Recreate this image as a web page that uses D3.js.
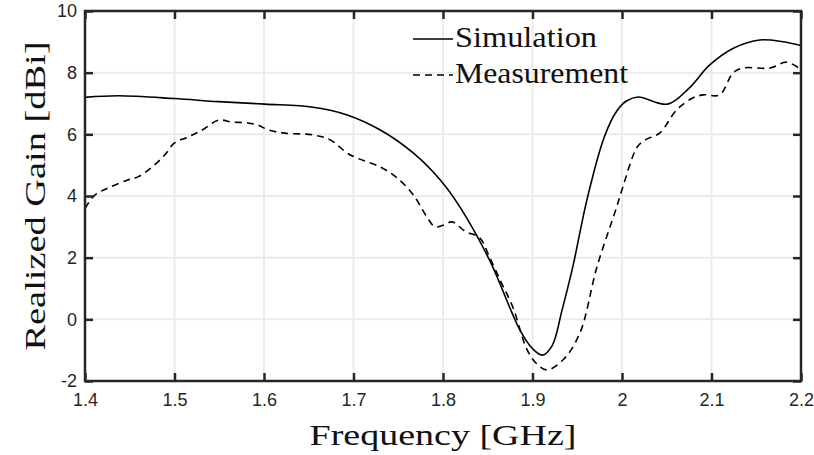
<!DOCTYPE html>
<html>
<head>
<meta charset="utf-8">
<script src="https://cdn.jsdelivr.net/npm/d3@7"></script>
<style>
    html, body { margin: 0; padding: 0; background: #fff; }
    svg { display: block; }
    .tick-label { font-family: "Liberation Sans", Arial, sans-serif; font-size: 18px; fill: #262626; }
    .title { font-family: "Liberation Serif", "Times New Roman", serif; font-size: 30px; fill: #111; }
</style>
</head>
<body>
<svg class="chart" width="814" height="455"></svg>
<script>
// data
const SIM_FREQ = [1.400, 1.437, 1.500, 1.549, 1.601, 1.655, 1.693, 1.730, 1.767, 1.797, 1.819, 1.852, 1.886, 1.900, 1.911, 1.922, 1.933, 1.945, 1.961, 1.980, 1.994, 2.005, 2.018, 2.051, 2.075, 2.098, 2.125, 2.154, 2.180, 2.200];
const SIM_GAIN = [7.20, 7.25, 7.16, 7.06, 6.98, 6.88, 6.63, 6.14, 5.39, 4.52, 3.64, 1.92, -0.35, -0.95, -1.16, -0.85, 0.30, 1.70, 3.90, 5.90, 6.75, 7.08, 7.21, 6.98, 7.50, 8.25, 8.80, 9.06, 9.00, 8.88];

const MEAS_FREQ = [1.400, 1.411, 1.426, 1.448, 1.459, 1.475, 1.489, 1.500, 1.515, 1.531, 1.549, 1.564, 1.582, 1.593, 1.605, 1.623, 1.655, 1.674, 1.693, 1.704, 1.730, 1.749, 1.767, 1.782, 1.791, 1.800, 1.810, 1.825, 1.841, 1.852, 1.865, 1.878, 1.894, 1.905, 1.916, 1.934, 1.953, 1.972, 1.994, 2.000, 2.017, 2.026, 2.042, 2.061, 2.079, 2.091, 2.109, 2.124, 2.135, 2.165, 2.184, 2.200];
const MEAS_GAIN = [3.60, 4.03, 4.26, 4.52, 4.62, 4.94, 5.33, 5.72, 5.91, 6.14, 6.46, 6.40, 6.37, 6.30, 6.14, 6.04, 5.98, 5.82, 5.39, 5.23, 4.94, 4.58, 4.03, 3.32, 3.00, 3.05, 3.16, 2.85, 2.64, 2.02, 1.20, 0.40, -0.99, -1.45, -1.64, -1.32, -0.44, 1.70, 3.64, 4.20, 5.59, 5.82, 6.04, 6.79, 7.18, 7.28, 7.28, 7.99, 8.15, 8.15, 8.34, 8.10];

const X_TICKS = [1.4, 1.5, 1.6, 1.7, 1.8, 1.9, 2.0, 2.1, 2.2];
const Y_TICKS = [-2, 0, 2, 4, 6, 8, 10];
const SERIES_NAMES = ['Simulation', 'Measurement'];
const X_TITLE = 'Frequency [GHz]';
const Y_TITLE = 'Realized Gain [dBi]';

const margin = {top: 11, right: 13, bottom: 74, left: 85};
const width = 814 - margin.left - margin.right;
const height = 455 - margin.top - margin.bottom;

const svg = d3.select('.chart');
const g = svg.append('g').attr('transform', `translate(${margin.left},${margin.top})`);

const xScale = d3.scaleLinear().domain([1.4, 2.2]).range([0, width]);
const yScale = d3.scaleLinear().domain([-2, 10]).range([height, 0]);

const zip = (xs, ys) => xs.map((x, i) => [x, ys[i]]);

renderGrid();
renderLines();
renderAxes();
renderLegend();
renderTitles();

function renderGrid() {
    const grid = g.append('g').attr('class', 'grid')
        .attr('stroke', '#ebebeb').attr('stroke-width', 2);
    grid.selectAll('.gx').data(X_TICKS).enter().append('line')
        .attr('x1', d => xScale(d)).attr('x2', d => xScale(d))
        .attr('y1', 0).attr('y2', height);
    grid.selectAll('.gy').data(Y_TICKS).enter().append('line')
        .attr('y1', d => yScale(d)).attr('y2', d => yScale(d))
        .attr('x1', 0).attr('x2', width);
}

function renderLines() {
    const line = d3.line()
        .curve(d3.curveCatmullRom.alpha(0.5))
        .x(d => xScale(d[0]))
        .y(d => yScale(d[1]));

    g.append('path')
        .attr('d', line(zip(SIM_FREQ, SIM_GAIN)))
        .attr('fill', 'none').attr('stroke', '#000').attr('stroke-width', 1.6);

    g.append('path')
        .attr('d', line(zip(MEAS_FREQ, MEAS_GAIN)))
        .attr('fill', 'none').attr('stroke', '#000').attr('stroke-width', 1.6)
        .attr('stroke-dasharray', '7,5');
}

function renderAxes() {
    const tickLen = 8;
    const fmt = d => String(d);   // plain hyphen for "-2", like the original
    const style = sel => {
        sel.select('.domain').remove();
        sel.selectAll('.tick line').attr('stroke', '#262626').attr('stroke-width', 2.5);
        sel.selectAll('.tick text').attr('class', 'tick-label').attr('fill', null);
    };

    g.append('g').attr('transform', `translate(0,${height})`)
        .call(d3.axisTop(xScale).tickValues(X_TICKS).tickSize(tickLen).tickFormat(fmt))
        .call(style)
        .selectAll('.tick text').attr('dy', null).attr('y', 25);

    g.append('g')
        .call(d3.axisBottom(xScale).tickValues(X_TICKS).tickSize(tickLen).tickFormat(''))
        .call(style);

    g.append('g')
        .call(d3.axisRight(yScale).tickValues(Y_TICKS).tickSize(tickLen).tickFormat(fmt))
        .call(style)
        .selectAll('.tick text').attr('text-anchor', 'end').attr('x', -8);

    g.append('g').attr('transform', `translate(${width},0)`)
        .call(d3.axisLeft(yScale).tickValues(Y_TICKS).tickSize(tickLen).tickFormat(''))
        .call(style);

    g.append('rect')
        .attr('width', width).attr('height', height)
        .attr('fill', 'none').attr('stroke', '#262626').attr('stroke-width', 2.5);
}

function renderLegend() {
    // widths measured on the original, its serif runs wider than Liberation Serif
    const textWidths = [142, 173];
    const legend = g.append('g').attr('transform', `translate(${413 - margin.left},${39 - margin.top})`);
    SERIES_NAMES.forEach((name, i) => {
        const row = legend.append('g').attr('transform', `translate(0,${i * 36})`);
        row.append('line')
            .attr('x1', 0).attr('x2', 40).attr('y1', 0).attr('y2', 0)
            .attr('stroke', '#000').attr('stroke-width', 1.6)
            .attr('stroke-dasharray', i === 1 ? '7,5' : null);
        row.append('text').attr('class', 'title')
            .attr('x', 42).attr('y', 8)
            .attr('textLength', textWidths[i]).attr('lengthAdjust', 'spacingAndGlyphs')
            .text(name);
    });
}

function renderTitles() {
    svg.append('text').attr('class', 'title')
        .attr('x', margin.left + width / 2).attr('y', 445)
        .attr('text-anchor', 'middle')
        .attr('textLength', 267).attr('lengthAdjust', 'spacingAndGlyphs')
        .text(X_TITLE);

    svg.append('text').attr('class', 'title')
        .attr('transform', `translate(45,${margin.top + height / 2}) rotate(-90)`)
        .attr('text-anchor', 'middle')
        .attr('textLength', 309).attr('lengthAdjust', 'spacingAndGlyphs')
        .text(Y_TITLE);
}
</script>
</body>
</html>
